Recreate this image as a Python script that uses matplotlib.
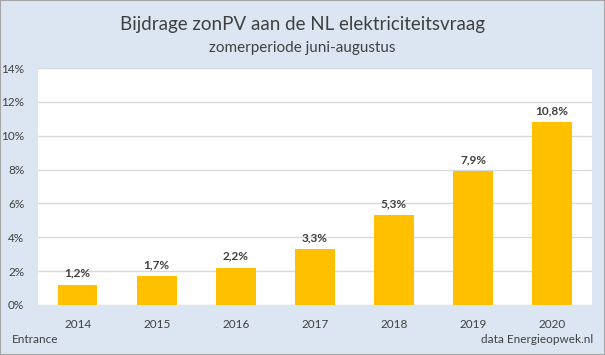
import matplotlib
matplotlib.use('Agg')
import matplotlib.pyplot as plt
from matplotlib.patches import Rectangle

years = ['2014', '2015', '2016', '2017', '2018', '2019', '2020']
shares = [1.2, 1.7, 2.2, 3.3, 5.3, 7.9, 10.8]
labels = ['1,2%', '1,7%', '2,2%', '3,3%', '5,3%', '7,9%', '10,8%']
yticks = [0, 2, 4, 6, 8, 10, 12, 14]

plt.rcParams['font.family'] = ['Lato', 'DejaVu Sans']

BG = '#DCE6F2'
BAR = '#FFC000'
TXT = '#404040'

fig = plt.figure(figsize=(6.05, 3.55), dpi=100, facecolor=BG)
fig.patches.append(Rectangle((0, 0), 1, 1, transform=fig.transFigure,
                             fill=False, edgecolor='#A6A6A6', linewidth=1.5))

ax = fig.add_axes([0.063, 0.141, 0.915, 0.667])
ax.set_facecolor('white')
x = range(len(years))
ax.bar(x, shares, width=0.5, color=BAR, zorder=2)
for xi, v, lab in zip(x, shares, labels):
    ax.text(xi, v + 0.35, lab, ha='center', va='bottom', fontsize=8.5,
            fontweight='bold', color=TXT)

ax.set_ylim(0, 14)
ax.set_xlim(-0.5, len(years) - 0.5)
ax.set_yticks(yticks)
ax.set_yticklabels([f'{t}%' for t in yticks])
ax.set_xticks(list(x))
ax.set_xticklabels(years)
ax.tick_params(length=0, labelsize=8.5, labelcolor=TXT)
ax.tick_params(axis='x', pad=10)
ax.tick_params(axis='y', pad=10)
ax.grid(axis='y', color='#D9D9D9', linewidth=1, zorder=0)
for s in ax.spines.values():
    s.set_visible(False)

fig.text(0.5, 0.932, 'Bijdrage zonPV aan de NL elektriciteitsvraag',
         ha='center', va='center', fontsize=13.5, color=TXT)
fig.text(0.5, 0.865, 'zomerperiode juni-augustus',
         ha='center', va='center', fontsize=11, color=TXT)
fig.text(0.02, 0.028, 'Entrance', ha='left', va='bottom', fontsize=8.5, color=TXT)
fig.text(0.98, 0.028, 'data Energieopwek.nl', ha='right', va='bottom',
         fontsize=8.5, color=TXT)

fig.savefig('out.png', dpi=100, facecolor=BG)
